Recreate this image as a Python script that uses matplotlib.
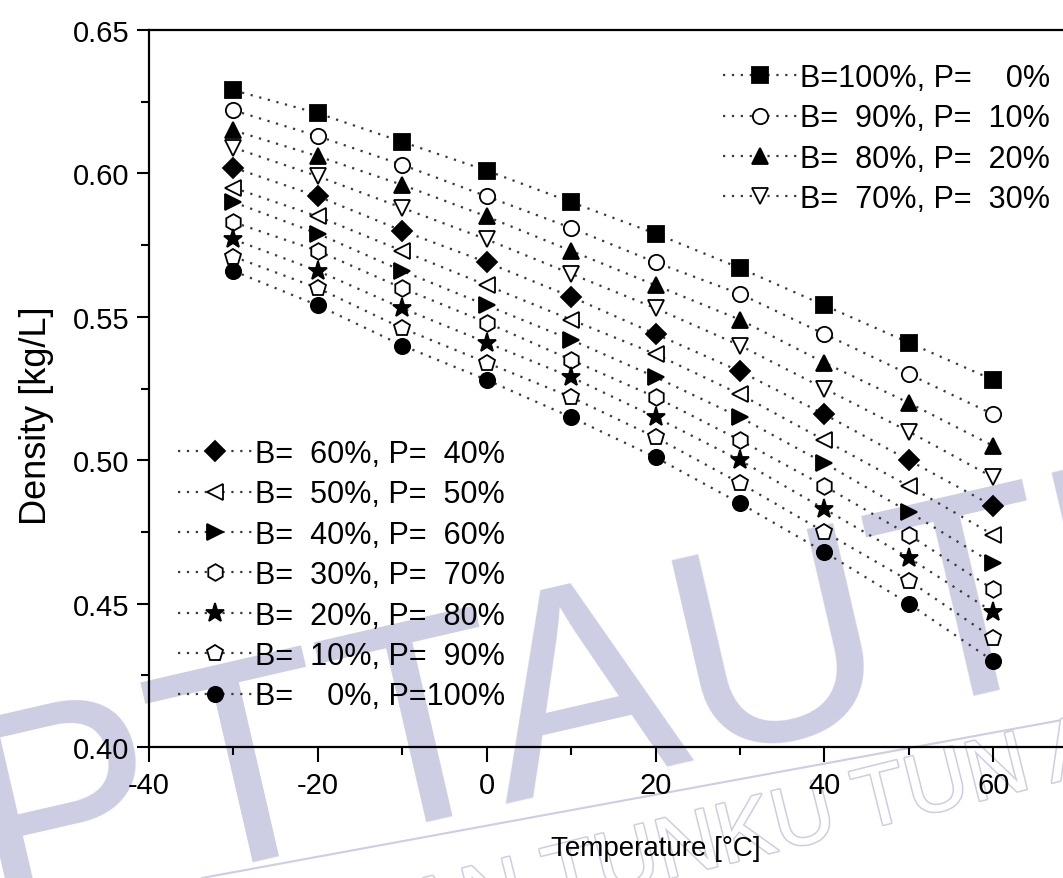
import matplotlib.pyplot as plt
import matplotlib.patheffects as pe

plt.rcParams['font.family'] = ['Liberation Sans', 'DejaVu Sans']
plt.rcParams['axes.unicode_minus'] = False

# temperatures [°C]
temps = [-30, -20, -10, 0, 10, 20, 30, 40, 50, 60]

# density [kg/L] for butane (B) / propane (P) mixtures
b100 = [0.629, 0.621, 0.611, 0.601, 0.590, 0.579, 0.567, 0.554, 0.541, 0.528]
b90 = [0.622, 0.613, 0.603, 0.592, 0.581, 0.569, 0.558, 0.544, 0.530, 0.516]
b80 = [0.615, 0.606, 0.596, 0.585, 0.573, 0.561, 0.549, 0.534, 0.520, 0.505]
b70 = [0.609, 0.599, 0.588, 0.577, 0.565, 0.553, 0.540, 0.525, 0.510, 0.494]
b60 = [0.602, 0.592, 0.580, 0.569, 0.557, 0.544, 0.531, 0.516, 0.500, 0.484]
b50 = [0.595, 0.585, 0.573, 0.561, 0.549, 0.537, 0.523, 0.507, 0.491, 0.474]
b40 = [0.590, 0.579, 0.566, 0.554, 0.542, 0.529, 0.515, 0.499, 0.482, 0.464]
b30 = [0.583, 0.573, 0.560, 0.548, 0.535, 0.522, 0.507, 0.491, 0.474, 0.455]
b20 = [0.577, 0.566, 0.553, 0.541, 0.529, 0.515, 0.500, 0.483, 0.466, 0.447]
b10 = [0.571, 0.560, 0.546, 0.534, 0.522, 0.508, 0.492, 0.475, 0.458, 0.438]
b0 = [0.566, 0.554, 0.540, 0.528, 0.515, 0.501, 0.485, 0.468, 0.450, 0.430]

labels = [
    'B=100%, P=    0%',
    'B=  90%, P=  10%',
    'B=  80%, P=  20%',
    'B=  70%, P=  30%',
    'B=  60%, P=  40%',
    'B=  50%, P=  50%',
    'B=  40%, P=  60%',
    'B=  30%, P=  70%',
    'B=  20%, P=  80%',
    'B=  10%, P=  90%',
    'B=    0%, P=100%',
]
series = [b100, b90, b80, b70, b60, b50, b40, b30, b20, b10, b0]
# (marker, filled, size)
styles = [('s', True, 11), ('o', False, 11), ('^', True, 12), ('v', False, 12),
          ('D', True, 10), ('<', False, 12), ('>', True, 12), ('h', False, 12),
          ('*', True, 14), ('p', False, 12), ('o', True, 11)]

fig = plt.figure(figsize=(10.63, 8.79), dpi=100)
ax = fig.add_axes([0.1402, 0.1490, 0.953, 0.8157])

# 水印 (drawn behind everything)
lav = '#cdcde3'
fig.text(-0.01, -0.045, 'PTTAUTHM', fontsize=210, color=lav, rotation=13,
         rotation_mode='anchor', ha='left', va='baseline', zorder=-2)
fig.text(-0.133, -0.230, 'PERPUSTAKAAN TUNKU TUN AMINAH', fontsize=62,
         color='white', rotation=14, rotation_mode='anchor', ha='left',
         va='baseline', zorder=-1,
         path_effects=[pe.withStroke(linewidth=2.2, foreground=lav)])
fig.add_artist(plt.Line2D([0.19, 1.0], [0.0, 0.18], color=lav, lw=1.5, zorder=-1))

lines = []
for ys, (m, filled, ms) in zip(series, styles):
    ln, = ax.plot(temps, ys, linestyle=(0, (1, 3)), lw=1.6, color='#3a3a3a',
                  marker=m, markersize=ms, markeredgewidth=1.3,
                  markeredgecolor='black',
                  markerfacecolor='black' if filled else 'white')
    lines.append(ln)

ax.set_xlim(-40, 80)
ax.set_ylim(0.40, 0.65)
ax.set_xticks([-40, -20, 0, 20, 40, 60, 80])
ax.set_xticks([-30, -10, 10, 30, 50, 70], minor=True)
ax.set_yticks([0.40, 0.45, 0.50, 0.55, 0.60, 0.65])
ax.set_yticks([0.425, 0.475, 0.525, 0.575, 0.625], minor=True)
ax.set_yticklabels(['0.40', '0.45', '0.50', '0.55', '0.60', '0.65'])
ax.tick_params(axis='both', which='major', direction='out', width=1.5, labelsize=21)
ax.tick_params(axis='x', which='major', length=11, pad=6)
ax.tick_params(axis='y', which='major', length=9, pad=5)
ax.tick_params(axis='both', which='minor', direction='out', width=1.5, length=6)
for s in ['left', 'bottom', 'top', 'right']:
    ax.spines[s].set_linewidth(1.6)
ax.patch.set_alpha(0)

ax.set_xlabel('Temperature [°C]', fontsize=20)
ax.set_ylabel('Density [kg/L]', fontsize=26)
ax.xaxis.set_label_coords(0.5, -0.122)
ax.yaxis.set_label_coords(-0.094, 0.464)

leg_kw = dict(loc='upper left', frameon=False, bbox_transform=fig.transFigure,
              fontsize=22, borderpad=0, borderaxespad=0, handlelength=2.42,
              handletextpad=0.1, labelspacing=0.34)
leg1 = ax.legend(lines[:4], labels[:4],
                 bbox_to_anchor=(723 / 1063, 1 - 64 / 879), **leg_kw)
ax.add_artist(leg1)
ax.legend(lines[4:], labels[4:],
          bbox_to_anchor=(178 / 1063, 1 - 440 / 879), **leg_kw)

fig.savefig('out.png', dpi=100, facecolor='white')
